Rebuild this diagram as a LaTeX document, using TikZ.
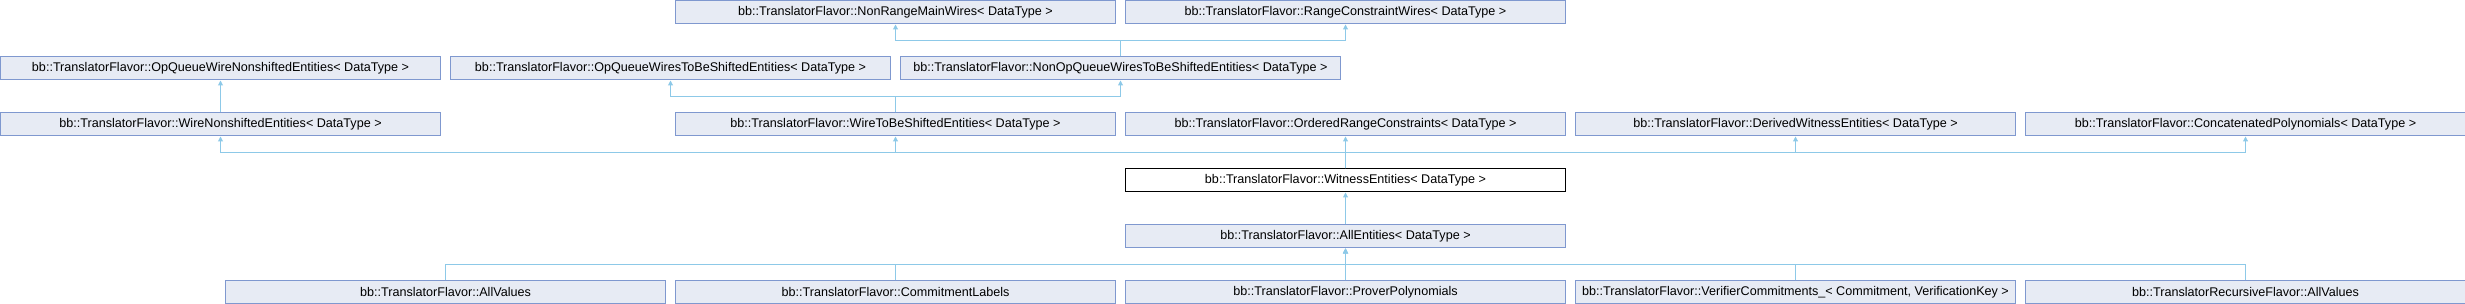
\documentclass[tikz,border=0pt]{standalone}
\usepackage{fontspec}
\setmainfont{Liberation Sans}
\usepackage{tikz}
\usetikzlibrary{arrows.meta,positioning}
\definecolor{clsfill}{HTML}{E7EBF4}
\definecolor{clsdraw}{HTML}{7F98CF}
\definecolor{inhline}{HTML}{8DC9E8}

\begin{document}
\begin{tikzpicture}[
  x=1pt, y=-1pt,
  font=\fontsize{12.6}{14}\selectfont, node distance=33pt and 10pt,
  cls/.style={draw=clsdraw,line width=1pt,fill=clsfill,minimum width=440pt,minimum height=23pt,inner sep=0pt,outer sep=0pt},
  cur/.style={cls,draw=black,fill=white},
  inh/.style={draw=inhline,line width=1pt,-{Triangle[length=5pt,width=5pt]},shorten >=1pt}]

\useasboundingbox (0,0) rectangle (2465,304);

% rows 1 and 2
\node[cls,anchor=north west] (ownse) at (0.5,56.5) {bb::TranslatorFlavor::OpQueueWireNonshiftedEntities< DataType >};
\node[cls,right=of ownse] (owtbs) {bb::TranslatorFlavor::OpQueueWiresToBeShiftedEntities< DataType >};
\node[cls,right=of owtbs] (nopq) {bb::TranslatorFlavor::NonOpQueueWiresToBeShiftedEntities< DataType >};
\node[cls,above=of nopq,xshift=-225pt] (nrmw) {bb::TranslatorFlavor::NonRangeMainWires< DataType >};
\node[cls,right=of nrmw] (rcw) {bb::TranslatorFlavor::RangeConstraintWires< DataType >};

% row 3
\node[cls,below=of ownse] (wn) {bb::TranslatorFlavor::WireNonshiftedEntities< DataType >};
\node[cls,right=235pt of wn] (wtbs) {bb::TranslatorFlavor::WireToBeShiftedEntities< DataType >};
\node[cls,right=of wtbs] (ordr) {bb::TranslatorFlavor::OrderedRangeConstraints< DataType >};
\node[cls,right=of ordr] (dwit) {bb::TranslatorFlavor::DerivedWitnessEntities< DataType >};
\node[cls,right=of dwit] (conc) {bb::TranslatorFlavor::ConcatenatedPolynomials< DataType >};

% rows 4 to 6
\node[cur,below=of ordr] (wit) {bb::TranslatorFlavor::WitnessEntities< DataType >};
\node[cls,below=of wit] (all) {bb::TranslatorFlavor::AllEntities< DataType >};
\node[cls,below=of all] (prov) {bb::TranslatorFlavor::ProverPolynomials};
\node[cls,left=of prov] (comm) {bb::TranslatorFlavor::CommitmentLabels};
\node[cls,left=of comm] (allv) {bb::TranslatorFlavor::AllValues};
\node[cls,right=of prov] (vcom) {bb::TranslatorFlavor::VerifierCommitments\_< Commitment, VerificationKey >};
\node[cls,right=of vcom] (rall) {bb::TranslatorRecursiveFlavor::AllValues};

\foreach \p in {nrmw,rcw} \draw[inh] (nopq.north) |- ([yshift=-17pt]\p.south) -- (\p.south);
\foreach \p in {owtbs,nopq} \draw[inh] (wtbs.north) |- ([yshift=-17pt]\p.south) -- (\p.south);
\draw[inh] (wn) -- (ownse);
\foreach \p in {wn,wtbs,ordr,dwit,conc} \draw[inh] (wit.north) |- ([yshift=-17pt]\p.south) -- (\p.south);
\draw[inh] (all) -- (wit);
\foreach \c in {allv,comm,prov,vcom,rall} \draw[inh] (\c.north) |- ([yshift=-17pt]all.south) -- (all.south);
\end{tikzpicture}
\end{document}
